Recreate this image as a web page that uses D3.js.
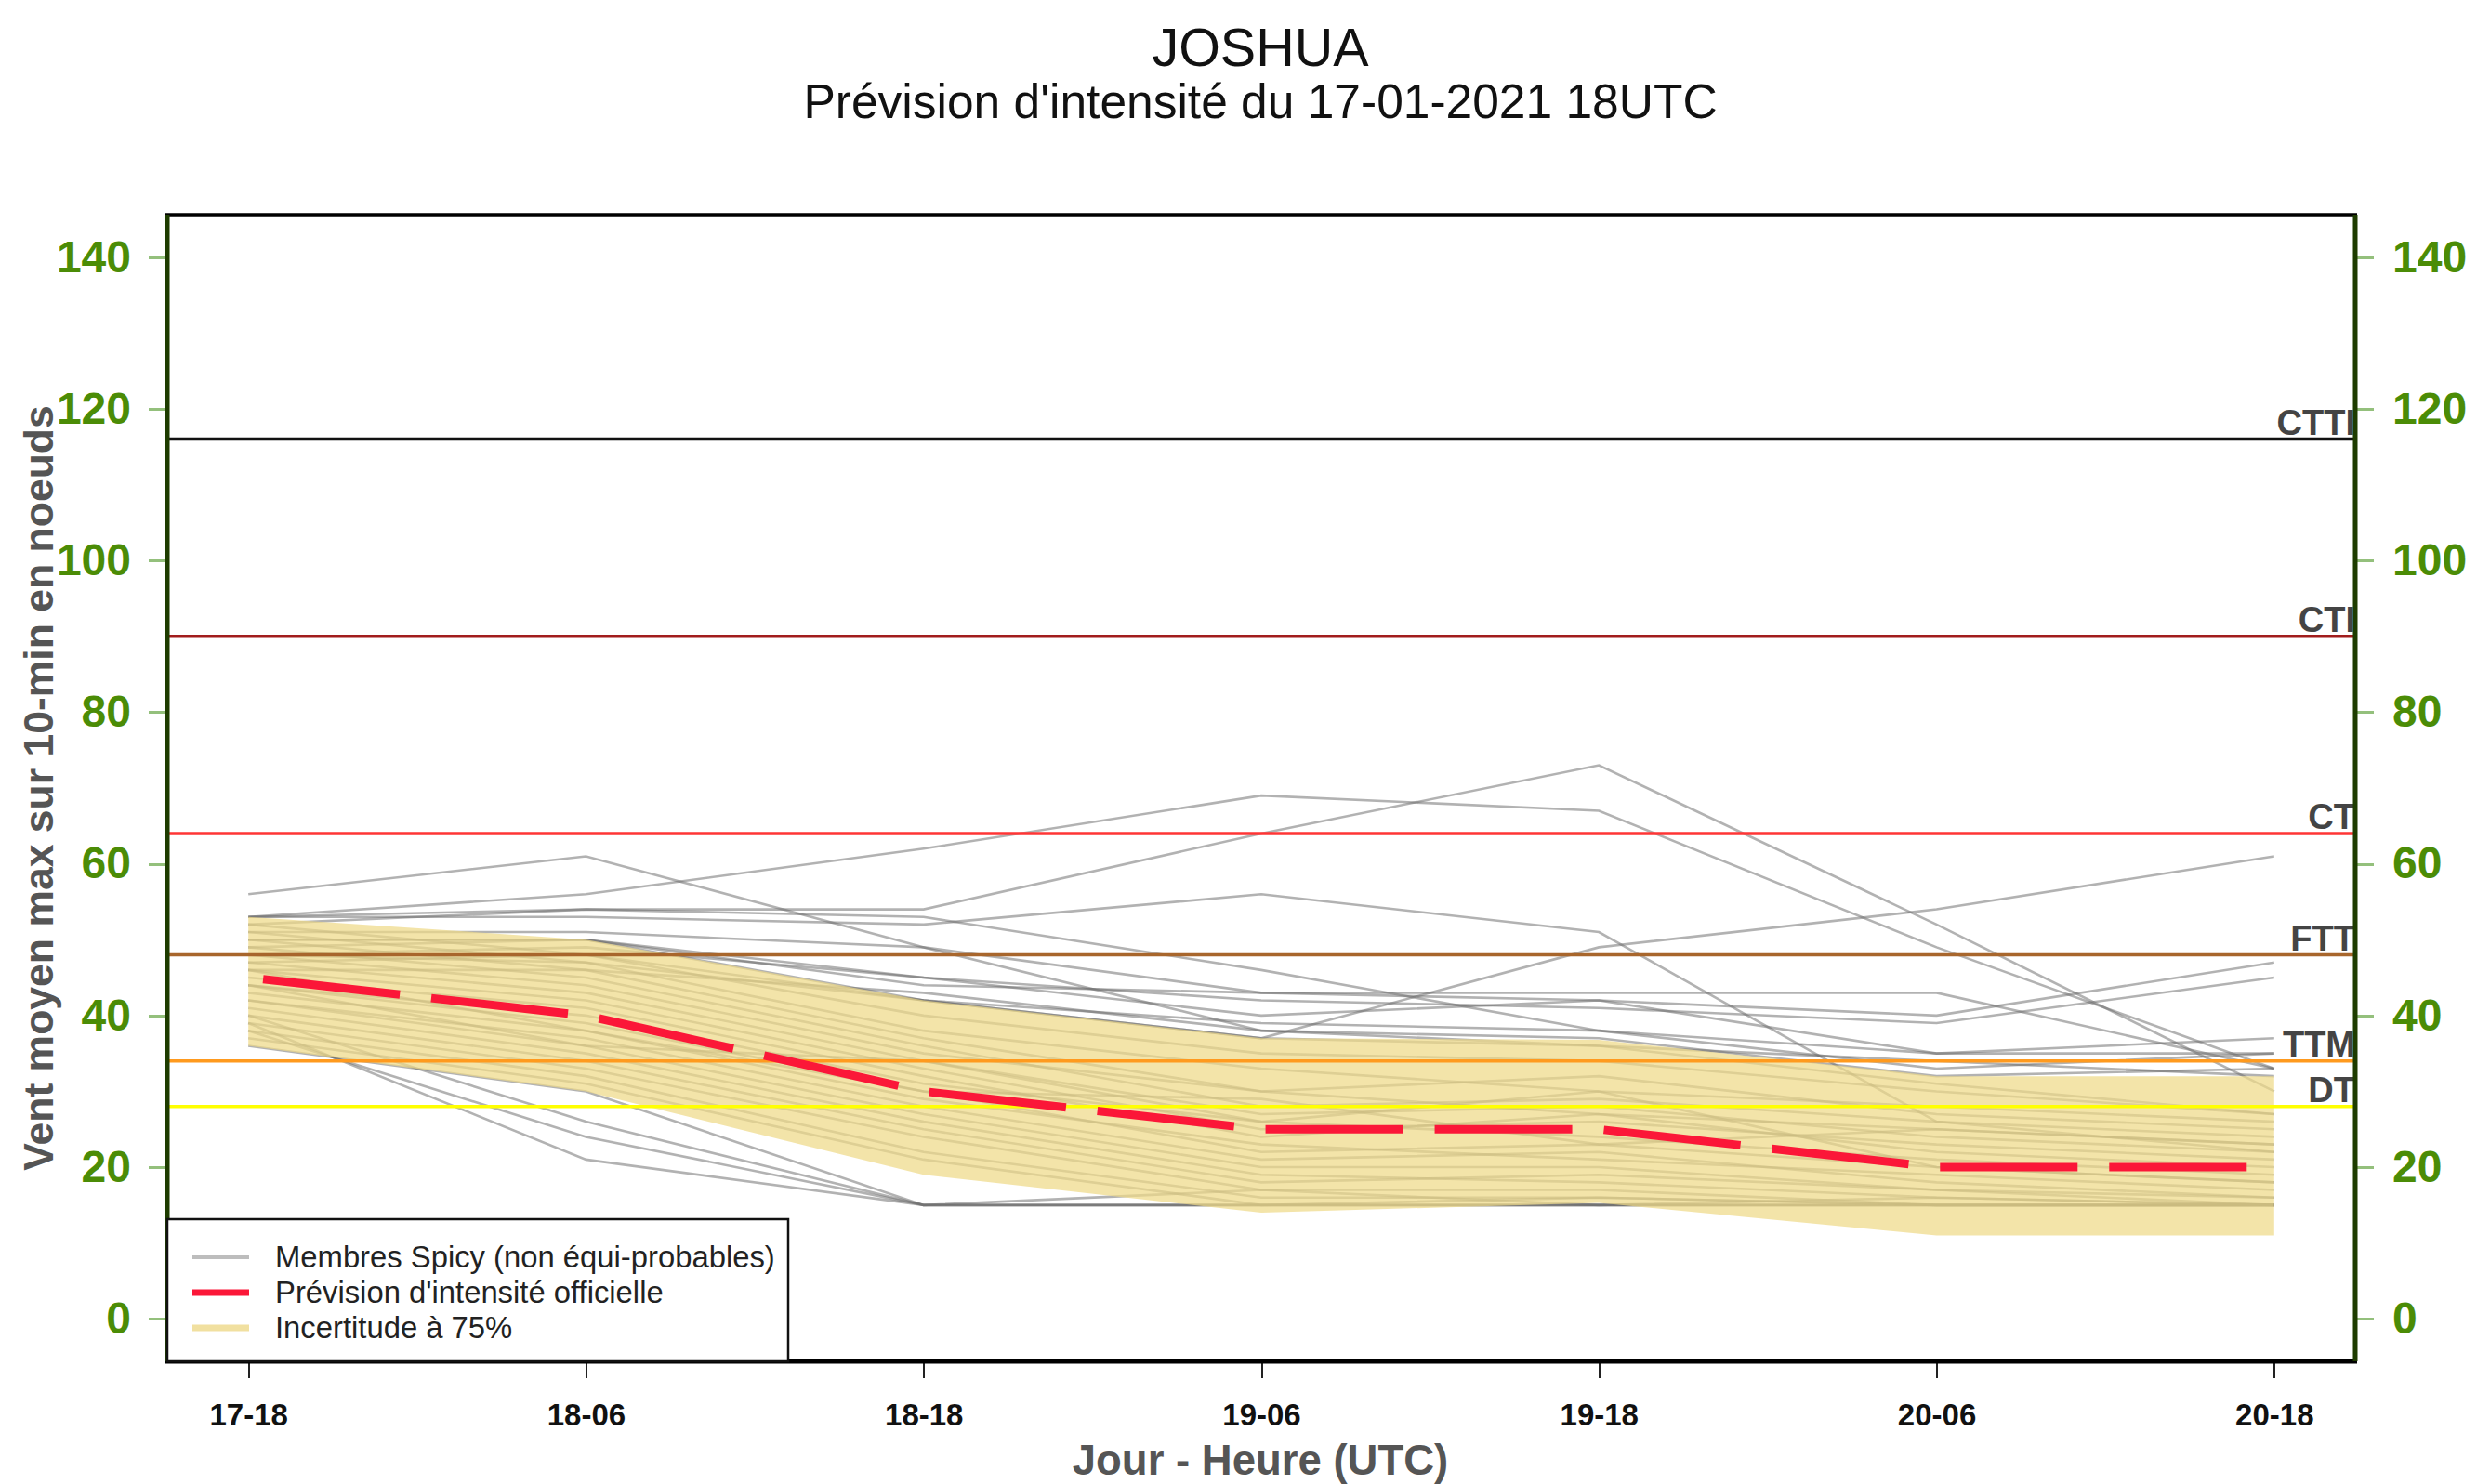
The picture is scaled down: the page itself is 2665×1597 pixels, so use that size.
<!DOCTYPE html>
<meta charset="utf-8">
<title>JOSHUA - Prévision d'intensité</title>
<style>
body { margin: 0; background: #ffffff; }
text { font-family: "Liberation Sans", Arial, sans-serif; }
.tick line { shape-rendering: crispEdges; }
</style>
<body>
<script src="https://d3js.org/d3.v7.min.js"></script>
<script>

// ---- data ----
var times = ["17-18", "18-06", "18-18", "19-06", "19-18", "20-06", "20-18"];
var yTicks = [0, 20, 40, 60, 80, 100, 120, 140];

// official forecast (knots)
var officiel = [45, 40, 30, 25, 25, 20, 20];

// 75% uncertainty band
var bandHaut = [53, 50, 42, 37, 36.8, 32, 32];
var bandBas  = [36, 30, 19, 14, 15.3, 11, 11];

// Spicy members (one array per member, values at each time)
var membres = [
  [56, 61, 49, 38, 36, 31, 27],
  [53, 56, 62, 69, 67, 49, 33],
  [53, 54, 54, 64, 73, 52, 30],
  [53, 53, 52, 56, 51, 26, 22],
  [52, 54, 53, 46, 38, 33, 35],
  [50, 50, 44, 43, 43, 43, 33],
  [51, 51, 49, 43, 42, 40, 47],
  [50, 50, 45, 42, 41, 39, 45],
  [49, 50, 42, 37, 49, 54, 61],
  [48, 49, 45, 40, 42, 35, 37],
  [47, 48, 42, 39, 38, 35, 35],
  [46, 46, 43, 38, 37, 32, 33],
  [48, 47, 42, 37, 36, 34, 32],
  [52, 48, 40, 35, 34, 30, 27],
  [51, 47, 38, 33, 30, 28, 26],
  [50, 46, 37, 30, 32, 27, 25],
  [49, 45, 36, 28, 29, 26, 24],
  [48, 44, 35, 30, 27, 25, 23],
  [47, 43, 34, 27, 28, 24, 22],
  [46, 42, 33, 25, 26, 23, 21],
  [45, 41, 32, 24, 27, 22, 20],
  [44, 40, 31, 26, 24, 21, 19],
  [44, 39, 30, 22, 23, 20, 18],
  [43, 38, 29, 23, 21, 19, 17],
  [42, 37, 28, 21, 22, 18, 16],
  [42, 36, 27, 20, 20, 17, 15],
  [41, 35, 26, 19, 18, 16, 15],
  [40, 34, 25, 18, 19, 17, 16],
  [39, 33, 24, 17, 17, 15, 15],
  [38, 32, 22, 16, 16, 15, 15],
  [37, 31, 21, 15, 15, 15, 15],
  [46, 38, 30, 29, 23, 25, 23],
  [44, 36, 34, 26, 30, 20, 18],
  [40, 26, 15, 15, 15, 15, 15],
  [38, 24, 15, 15, 16, 15, 15],
  [39, 21, 15, 15, 15, 15, 15],
  [36, 30, 15, 17, 15, 16, 15]
];

// intensity thresholds
var seuilNoms    = ["CTTI", "CTI", "CT", "FTT", "TTM", "DT"];
var seuilVals    = [116, 90, 64, 48, 34, 28];
var seuilCouleurs = ["#111111", "#a11c1c", "#ff3535", "#a8662c", "#ff9a1e", "#ffff00"];

var legendeTextes = ["Membres Spicy (non équi-probables)", "Prévision d'intensité officielle", "Incertitude à 75%"];

// ---- layout ----
var width = 2665, height = 1597;
var pL = 180, pR = 2534, pT = 231, pB = 1465;

var svg = d3.select("body").append("svg")
    .attr("width", width)
    .attr("height", height);

var x = d3.scaleLinear().domain([-0.24, 6.24]).range([pL, pR]);
var y = d3.scaleLinear().domain([-5.6, 145.6]).range([pB, pT]);

svg.append("clipPath").attr("id", "clip")
  .append("rect")
    .attr("x", pL).attr("y", pT)
    .attr("width", pR - pL).attr("height", pB - pT);

var plot = svg.append("g").attr("clip-path", "url(#clip)");

var line = d3.line()
    .x(function(d, i) { return x(i); })
    .y(function(d) { return y(d); });

// members
plot.append("g").selectAll("path")
  .data(membres)
  .enter().append("path")
    .attr("d", line)
    .attr("fill", "none")
    .attr("stroke", "#6c6c6c")
    .attr("stroke-opacity", 0.52)
    .attr("stroke-width", 2.6);

// uncertainty band
var area = d3.area()
    .x(function(d, i) { return x(i); })
    .y0(function(d, i) { return y(bandBas[i]); })
    .y1(function(d, i) { return y(bandHaut[i]); });

plot.append("path")
    .datum(bandHaut)
    .attr("d", area)
    .attr("fill", "rgb(239,218,136)")
    .attr("fill-opacity", 0.72);

// thresholds
seuilVals.forEach(function(v, i) {
  plot.append("line")
      .attr("x1", pL).attr("x2", pR)
      .attr("y1", y(v)).attr("y2", y(v))
      .attr("stroke", seuilCouleurs[i])
      .attr("stroke-width", 3.5);
  plot.append("text")
      .attr("x", pR)
      .attr("y", y(v) - 5)
      .attr("text-anchor", "end")
      .style("font-size", "38px")
      .style("font-weight", "bold")
      .style("fill", "#444444")
      .text(seuilNoms[i]);
});

// official forecast
plot.append("path")
    .datum(officiel)
    .attr("d", line)
    .attr("fill", "none")
    .attr("stroke", "#fb1738")
    .attr("stroke-width", 9)
    .attr("stroke-dasharray", "148 34")
    .attr("stroke-dashoffset", -16);

// ---- axes ----
var gLeft = svg.append("g")
    .attr("transform", "translate(" + pL + ",0)")
    .call(d3.axisLeft(y).tickValues(yTicks).tickSize(20).tickPadding(19));
var gRight = svg.append("g")
    .attr("transform", "translate(" + pR + ",0)")
    .call(d3.axisRight(y).tickValues(yTicks).tickSize(20).tickPadding(20));
[gLeft, gRight].forEach(function(g) {
  g.select(".domain").remove();
  g.selectAll(".tick line").attr("stroke", "#94c07c").attr("stroke-width", 3);
  g.selectAll(".tick text")
      .style("font-family", "'Liberation Sans', Arial, sans-serif")
      .style("font-size", "48px")
      .style("font-weight", "bold")
      .attr("fill", "#4b8c06");
});

var gBottom = svg.append("g")
    .attr("transform", "translate(0," + pB + ")")
    .call(d3.axisBottom(x).tickValues(d3.range(times.length))
      .tickFormat(function(i) { return times[i]; })
      .tickSize(18).tickPadding(28));
gBottom.select(".domain").remove();
gBottom.selectAll(".tick line").attr("stroke", "#222222").attr("stroke-width", 2);
gBottom.selectAll(".tick text")
    .style("font-family", "'Liberation Sans', Arial, sans-serif")
    .style("font-size", "33px")
    .style("font-weight", "bold")
    .attr("fill", "#111111");

// frame
svg.append("line").attr("x1", pL - 2).attr("x2", pR + 2).attr("y1", pT).attr("y2", pT)
    .attr("stroke", "#000000").attr("stroke-width", 3.5);
svg.append("line").attr("x1", pL - 2).attr("x2", pR + 2).attr("y1", pB).attr("y2", pB)
    .attr("stroke", "#000000").attr("stroke-width", 5);
[pL, pR].forEach(function(xx) {
  svg.append("line").attr("x1", xx).attr("x2", xx).attr("y1", pT).attr("y2", pB)
      .attr("stroke", "#1e3c00").attr("stroke-width", 5);
});

// ---- legend ----
var leg = svg.append("g");
leg.append("rect")
    .attr("x", pL).attr("y", 1312)
    .attr("width", 668).attr("height", pB - 1312)
    .attr("fill", "#ffffff")
    .attr("stroke", "#111111")
    .attr("stroke-width", 2.5);
var legCouleurs = ["#bdbdbd", "#fb1738", "#f1e0a0"];
var legLargeurs = [4, 7, 7];
var legY = [1353, 1391, 1429];
legendeTextes.forEach(function(t, i) {
  leg.append("line")
      .attr("x1", 207).attr("x2", 268)
      .attr("y1", legY[i]).attr("y2", legY[i])
      .attr("stroke", legCouleurs[i])
      .attr("stroke-width", legLargeurs[i]);
  leg.append("text")
      .attr("x", 296).attr("y", legY[i] + 11)
      .style("font-size", "32.8px")
      .style("fill", "#222222")
      .text(t);
});

// ---- titles ----
svg.append("text")
    .attr("x", 1356).attr("y", 71)
    .attr("text-anchor", "middle")
    .style("font-size", "57.5px")
    .style("fill", "#111111")
    .text("JOSHUA");
svg.append("text")
    .attr("x", 1356).attr("y", 127)
    .attr("text-anchor", "middle")
    .style("font-size", "51.5px")
    .style("fill", "#111111")
    .text("Prévision d'intensité du 17-01-2021 18UTC");

svg.append("text")
    .attr("x", 1356).attr("y", 1587)
    .attr("text-anchor", "middle")
    .style("font-size", "45.5px")
    .style("font-weight", "bold")
    .style("fill", "#555555")
    .text("Jour - Heure (UTC)");

svg.append("text")
    .attr("transform", "translate(57,848) rotate(-90)")
    .attr("text-anchor", "middle")
    .style("font-size", "44.5px")
    .style("font-weight", "bold")
    .style("fill", "#555555")
    .text("Vent moyen max sur 10-min en noeuds");

</script>
